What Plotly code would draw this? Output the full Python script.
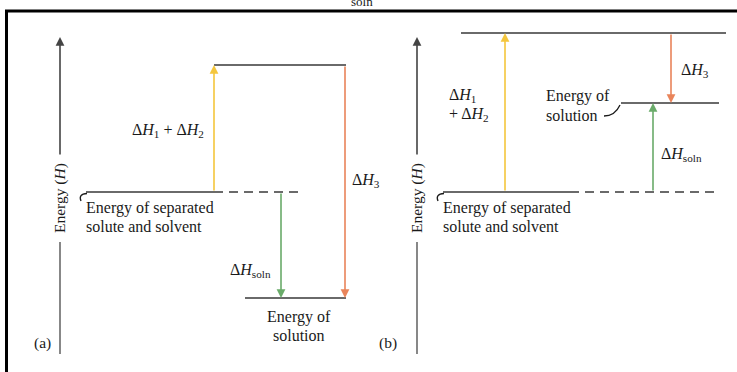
import plotly.graph_objects as go

# ---- data (energy levels, arbitrary units; separated solute+solvent = 0) ----
panel_a_levels = {"separated": 0.0, "intermediate": 12.7, "solution": -10.6}
panel_b_levels = {"separated": 0.0, "intermediate": 15.9, "solution": 8.9}
arrow_labels = ["ΔH<sub>1</sub> + ΔH<sub>2</sub>", "ΔH<sub>3</sub>", "ΔH<sub>soln</sub>"]

W, H = 737, 372
FONT = "Liberation Serif, Times New Roman, serif"
GRAY = "#6a6a6a"
YEL = "#f4c63d"
ORA = "#e9845a"
GRN = "#6aab6a"
TXT = "#1a1a1a"

def E(p):  # pixel row -> energy units (layout helper for non-data decorations)
    return (192 - p) / 10.0

fig = go.Figure()
fig.update_layout(width=W, height=H, margin=dict(l=0, r=0, t=0, b=0),
                  paper_bgcolor="white", plot_bgcolor="white", showlegend=False)
fig.update_xaxes(range=[0, W], visible=False, fixedrange=True)
fig.update_yaxes(range=[E(H), E(0)], visible=False, fixedrange=True)

def hline(x0, x1, e, dash="solid", color=GRAY, width=2):
    fig.add_trace(go.Scatter(x=[x0, x1], y=[e, e], mode="lines",
                             line=dict(color=color, width=width, dash=dash),
                             hoverinfo="skip"))

def arrow(x, e0, e1, color, width=1.6):
    fig.add_annotation(x=x, y=e1, ax=x, ay=e0, xref="x", yref="y", axref="x", ayref="y",
                       text="", showarrow=True, arrowhead=2, arrowsize=1.1,
                       arrowwidth=width, arrowcolor=color, standoff=0, startstandoff=0)

def text(x, p, s, size=16, xanchor="center", angle=0, color=TXT):
    fig.add_annotation(x=x, y=E(p), xref="x", yref="y", text=s, showarrow=False,
                       xanchor=xanchor, yanchor="middle", textangle=angle,
                       font=dict(family=FONT, size=size, color=color))

def hook(path_pts):
    (x0, p0), (xc, pc), (x1, p1) = path_pts
    fig.add_shape(type="path", xref="x", yref="y",
                  path=f"M {x0},{E(p0)} Q {xc},{E(pc)} {x1},{E(p1)}",
                  line=dict(color=TXT, width=1.3))

# ---- frame ----
fig.add_shape(type="line", xref="x", yref="y", x0=5, x1=W, y0=E(11), y1=E(11),
              line=dict(color="black", width=3))
fig.add_shape(type="line", xref="x", yref="y", x0=6.5, x1=6.5, y0=E(11), y1=E(H),
              line=dict(color="black", width=3))
text(362, 1, "soln", size=13)

# ---- energy axes ----
for ax_x, lab in [(60, "(a)"), (417, "(b)")]:
    fig.add_shape(type="line", xref="x", yref="y", x0=ax_x, x1=ax_x, y0=E(242), y1=E(354),
                  line=dict(color=GRAY, width=1.6))
    arrow(ax_x, E(156), E(37), "#444444", width=1.6)
    text(ax_x, 198, "Energy (<i>H</i>)", size=15.5, angle=-90)
    text(ax_x - 18 if lab == "(a)" else ax_x - 29, 343, lab, size=15.5)

# ---- panel (a) ----
a = panel_a_levels
hline(86, 214, a["separated"])
hline(214, 302, a["separated"], dash="9px,6px")
hline(214, 346, a["intermediate"])
hline(245, 346, a["solution"])
arrow(214, a["separated"], a["intermediate"], YEL)
arrow(345, a["intermediate"], a["solution"], ORA)
arrow(281, a["separated"], a["solution"], GRN)
text(168, 130, "Δ<i>H</i><sub>1</sub> + Δ<i>H</i><sub>2</sub>")
text(366, 180, "Δ<i>H</i><sub>3</sub>")
text(250, 270, "Δ<i>H</i><sub>soln</sub>")
text(299, 317, "Energy of")
text(299, 335, "solution")
text(84, 208, "Energy of separated", xanchor="left")
text(84, 226, "solute and solvent", xanchor="left")
hook([(87, 193.5), (78, 194), (81, 201)])

# ---- panel (b) ----
b = panel_b_levels
hline(443, 570, b["separated"])
hline(570, 718, b["separated"], dash="9px,6px")
hline(461, 726, b["intermediate"])
hline(621, 719, b["solution"])
arrow(505, b["separated"], b["intermediate"], YEL)
arrow(671, b["intermediate"], b["solution"], ORA)
arrow(653, b["separated"], b["solution"], GRN)
text(447, 95, "Δ<i>H</i><sub>1</sub>", xanchor="left")
text(447, 114, "+ Δ<i>H</i><sub>2</sub>", xanchor="left")
text(679, 70, "Δ<i>H</i><sub>3</sub>", xanchor="left")
text(544, 96, "Energy of", xanchor="left")
text(544, 115, "solution", xanchor="left")
text(659, 154, "Δ<i>H</i><sub>soln</sub>", xanchor="left")
text(441, 208, "Energy of separated", xanchor="left")
text(441, 226, "solute and solvent", xanchor="left")
hook([(444, 193.5), (435, 194), (438, 201)])
hook([(604, 116), (615, 116), (620, 105)])

fig.write_html("out.html", config={"displayModeBar": False},
               post_script="document.body.style.margin='0';document.body.style.overflow='hidden';")
